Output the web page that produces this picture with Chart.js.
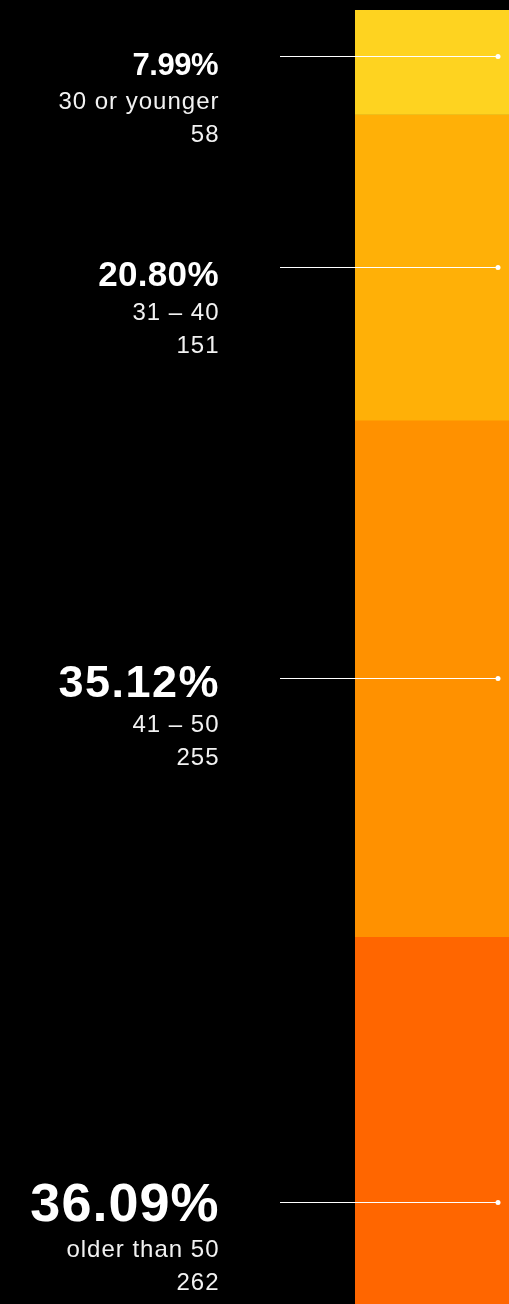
<!DOCTYPE html>
<html>
<head>
<meta charset="utf-8">
<script src="https://cdn.jsdelivr.net/npm/chart.js@4/dist/chart.umd.min.js"></script>
<style>
  html, body { margin: 0; padding: 0; background: #000; }
  .chart-container { position: relative; width: 509px; height: 1304px; }
</style>
</head>
<body>
<div class="chart-container">
  <canvas id="myChart"></canvas>
</div>
<script>
// age groups, respondents per group and their share
const ageGroups = ["30 or younger", "31 – 40", "41 – 50", "older than 50"];
const counts = [58, 151, 255, 262];
const percents = ["7.99%", "20.80%", "35.12%", "36.09%"];

// styling
const barColors = ["#fed320", "#ffb007", "#ff9100", "#ff6600"];
const pctFontSizes = [31, 35, 45, 54];
const pctSpacing = [-0.5, 0.3, 1.5, 1];
const FONT = '"Liberation Sans", Arial, Helvetica, sans-serif';
const TEXT_RIGHT = 218.5;

const calloutPlugin = {
    id: "callouts",
    afterDatasetsDraw(chart) {
        const ctx = chart.ctx;
        const area = chart.chartArea;
        chart.data.datasets.forEach((ds, i) => {
            const bar = chart.getDatasetMeta(i).data[0];
            const y = Math.round((bar.y + bar.base) / 2) + 0.5;
            const dotX = area.right - 11;

            ctx.save();
            // leader line + dot
            ctx.strokeStyle = "#fff";
            ctx.lineWidth = 1;
            ctx.beginPath();
            ctx.moveTo(280, y);
            ctx.lineTo(dotX, y);
            ctx.stroke();
            ctx.fillStyle = "#fff";
            ctx.beginPath();
            ctx.arc(dotX, y, 2.5, 0, Math.PI * 2);
            ctx.fill();

            // percentage
            const size = pctFontSizes[i];
            const base = y + 18;
            ctx.textAlign = "right";
            ctx.textBaseline = "alphabetic";
            ctx.font = "bold " + size + "px " + FONT;
            ctx.letterSpacing = pctSpacing[i] + "px";
            ctx.fillText(percents[i], TEXT_RIGHT + pctSpacing[i], base);
            ctx.restore();

            // group + count
            const gap = 31 + size * 0.1;
            ctx.save();
            ctx.textAlign = "right";
            ctx.font = "24px " + FONT;
            ctx.letterSpacing = "1px";
            ctx.fillStyle = "#f2f2f2";
            ctx.fillText(ageGroups[i], TEXT_RIGHT + 1, base + gap);
            ctx.fillText(String(counts[i]), TEXT_RIGHT + 1, base + gap + 33);
            ctx.restore();
        });
    }
};

const myChartRef = document.getElementById("myChart").getContext("2d");
new Chart(myChartRef, {
    type: "bar",
    data: {
        labels: ["Age"],
        datasets: ageGroups.map((g, i) => ({
            label: g,
            data: [counts[i]],
            backgroundColor: barColors[i],
            borderWidth: 0,
            barPercentage: 1,
            categoryPercentage: 1
        }))
    },
    options: {
        responsive: true,
        maintainAspectRatio: false,
        animation: false,
        layout: {
            padding: { left: 355, top: 10, right: 0, bottom: 0 }
        },
        scales: {
            x: { stacked: true, display: false },
            y: { stacked: true, display: false, reverse: true, min: 6.4, max: 645.4 }
        },
        plugins: {
            legend: { display: false },
            tooltip: { enabled: false }
        }
    },
    plugins: [calloutPlugin]
});
</script>
</body>
</html>
